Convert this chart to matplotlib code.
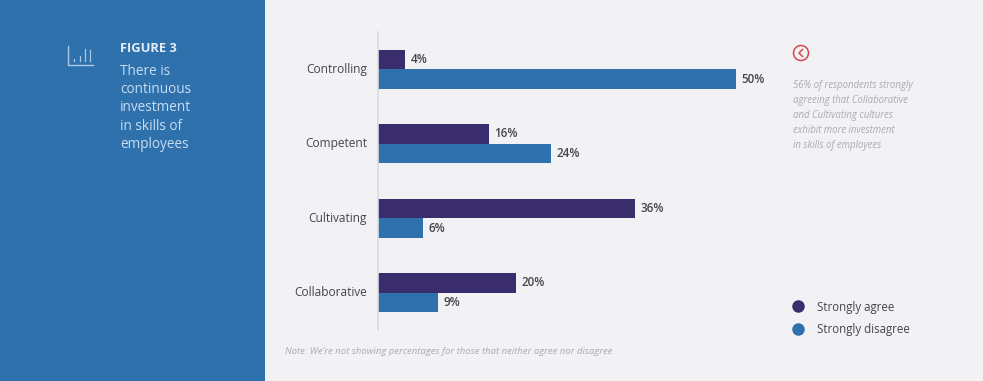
import matplotlib
matplotlib.use("Agg")
import matplotlib.pyplot as plt
from matplotlib.lines import Line2D
from matplotlib.patches import Circle, Rectangle
import numpy as np

plt.rcParams["font.family"] = ["Open Sans", "DejaVu Sans"]

W, H = 983, 381
BG = "#f2f2f5"
BLUE = "#2e71ad"
PURPLE = "#3a2d6e"
TEXT = "#45454a"
PALE = "#c9dcf0"
NOTE = "#ababb0"
PX_PER_PCT = 7.16

categories = ["Controlling", "Competent", "Cultivating", "Collaborative"]
# bar lengths as drawn in the picture, they run a little off the printed labels
strongly_agree = [3.8, 15.5, 35.9, 19.3]
strongly_disagree = [50, 24.2, 6.3, 8.4]
agree_labels = ["4%", "16%", "36%", "20%"]
disagree_labels = ["50%", "24%", "6%", "9%"]
caption = ["There is", "continuous", "investment", "in skills of", "employees"]
callout = ["56% of respondents strongly", "agreeing that Collaborative",
           "and Cultivating cultures", "exhibit more investment",
           "in skills of employees"]
note = "Note: We\u2019re not showing percentages for those that neither agree nor disagree"

fig = plt.figure(figsize=(W / 100, H / 100), dpi=100, facecolor=BG)

# overlay in pixel coords for the side panel and notes
bg = fig.add_axes([0, 0, 1, 1])
bg.set_xlim(0, W)
bg.set_ylim(H, 0)
bg.axis("off")
bg.add_patch(Rectangle((0, 0), 265, H, color=BLUE, lw=0))

# small bar chart icon
bg.plot([67.5, 67.5, 93], [46, 65, 65], color="#a9c8e8", lw=1.0)
for x, top in zip([74, 80, 85, 90], [59, 56, 49, 50]):
    bg.plot([x, x], [top, 61], color="#a9c8e8", lw=0.9)

bg.text(120, 48, "FIGURE 3", color="#e3edf7", fontsize=9.3, fontweight="bold", va="center")
for i, line in enumerate(caption):
    bg.text(120, 71.5 + i * 18.2, line, color=PALE, fontsize=9.8, fontweight="medium", va="center")

# red back icon
bg.add_patch(Circle((801, 53), 7.5, fill=False, ec="#cf4a50", lw=1.1))
bg.plot([802.5, 799, 802.5], [49.5, 53, 56.5], color="#cf4a50", lw=1.1)
for i, line in enumerate(callout):
    bg.text(793, 85.5 + i * 14.9, line, color=NOTE, fontsize=6.9, style="italic", va="center")
bg.text(285, 351.5, note, color=NOTE, fontsize=6.8, style="italic", va="center")

# chart
ax = fig.add_axes([378 / W, 1 - 330 / H, (W - 378) / W, 298 / H])
ax.patch.set_alpha(0)
y = np.arange(len(categories))
bh = 0.265
ax.barh(y - bh / 2, strongly_agree, bh, color=PURPLE)
ax.barh(y + bh / 2, strongly_disagree, bh, color=BLUE)
ax.set_xlim(0, (W - 378) / PX_PER_PCT)
ax.set_ylim(3.5, -0.5)
ax.set_yticks(y)
ax.set_yticklabels(categories, fontsize=8.6, color=TEXT, fontweight="medium", va="center")
ax.tick_params(axis="y", length=0, pad=8)
ax.set_xticks([])
for s in ["top", "right", "bottom"]:
    ax.spines[s].set_visible(False)
ax.spines["left"].set_color("#dcdce0")
ax.spines["left"].set_linewidth(1.2)

for i in range(len(categories)):
    ax.annotate(agree_labels[i], (strongly_agree[i], i - bh / 2), xytext=(4.0, 0), textcoords="offset points",
                fontsize=8.4, fontweight="semibold", color=TEXT, va="center")
    ax.annotate(disagree_labels[i], (strongly_disagree[i], i + bh / 2), xytext=(4.0, 0), textcoords="offset points",
                fontsize=8.4, fontweight="semibold", color=TEXT, va="center")

handles = [
    Line2D([], [], marker="o", ls="", ms=8, color=PURPLE, label="Strongly agree"),
    Line2D([], [], marker="o", ls="", ms=8, color=BLUE, label="Strongly disagree"),
]
fig.legend(handles=handles, loc="upper left", bbox_to_anchor=(788.5 / W, 1 - 300.5 / H),
           frameon=False, labelcolor=TEXT, prop={"size": 8.3, "weight": "medium"}, handletextpad=0.85,
           labelspacing=0.85, borderpad=0, borderaxespad=0, handlelength=1.6)

fig.savefig("out.png", dpi=100, facecolor=BG)
